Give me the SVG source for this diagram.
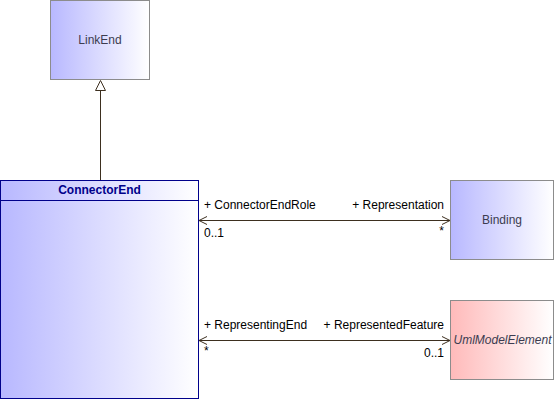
<svg xmlns="http://www.w3.org/2000/svg" width="555" height="400" viewBox="0 0 555 400">
<defs>
<linearGradient id="gb" x1="0" y1="0" x2="1" y2="0"><stop offset="0" stop-color="#b8b8ff"/><stop offset="1" stop-color="#ffffff"/></linearGradient>
<linearGradient id="gr" x1="0" y1="0" x2="1" y2="0"><stop offset="0" stop-color="#ffbaba"/><stop offset="1" stop-color="#ffffff"/></linearGradient>
</defs>
<style>
.box{stroke:#8c8c8c;stroke-width:1}
.nl{font-family:"Liberation Sans",Arial,sans-serif;font-size:12px;fill:#3c3c50}
.lb{font-family:"Liberation Sans",Arial,sans-serif;font-size:12px;fill:#000}
.ln{stroke:#3d2f1f;stroke-width:1;fill:none}
</style>
<g id="LinkEnd">
<rect class="box" x="50.5" y="0.5" width="99" height="79" fill="url(#gb)"/>
<text class="nl" x="100" y="44" text-anchor="middle">LinkEnd</text>
</g>
<g id="ConnectorEnd">
<rect x="0.5" y="180.5" width="198" height="218" fill="url(#gb)" stroke="#00008b" stroke-width="1"/>
<line x1="0.5" y1="200.5" x2="198.5" y2="200.5" stroke="#00008b"/>
<text x="99.5" y="194" text-anchor="middle" font-family="'Liberation Sans',Arial,sans-serif" font-size="12" font-weight="bold" fill="#00008b">ConnectorEnd</text>
</g>
<g id="Binding">
<rect class="box" x="450.5" y="180.5" width="103" height="79" fill="url(#gb)"/>
<text class="nl" x="502" y="224" text-anchor="middle">Binding</text>
</g>
<g id="UmlModelElement">
<rect class="box" x="450.5" y="300.5" width="103" height="79" fill="url(#gr)"/>
<text class="nl" x="502.5" y="344" text-anchor="middle" font-style="italic">UmlModelElement</text>
</g>
<g id="connectors">
<line class="ln" x1="100.5" y1="90" x2="100.5" y2="180"/>
<polygon points="100.5,80.5 95.5,90.5 105.5,90.5" fill="#fff" stroke="#3d2f1f"/>
<line class="ln" x1="199" y1="220.5" x2="450" y2="220.5"/>
<polyline class="ln" points="207,216.5 199,220.5 207,224.5"/>
<polyline class="ln" points="442,216.5 450,220.5 442,224.5"/>
<line class="ln" x1="199" y1="340.5" x2="450" y2="340.5"/>
<polyline class="ln" points="207,336.5 199,340.5 207,344.5"/>
<polyline class="ln" points="442,336.5 450,340.5 442,344.5"/>
<text class="lb" x="204" y="209">+ ConnectorEndRole</text>
<text class="lb" x="204" y="237">0..1</text>
<text class="lb" x="444" y="209" text-anchor="end">+ Representation</text>
<text class="lb" x="444" y="235" text-anchor="end">*</text>
<text class="lb" x="204" y="329">+ RepresentingEnd</text>
<text class="lb" x="204" y="355">*</text>
<text class="lb" x="444" y="329" text-anchor="end">+ RepresentedFeature</text>
<text class="lb" x="444" y="357" text-anchor="end">0..1</text>
</g>
</svg>
